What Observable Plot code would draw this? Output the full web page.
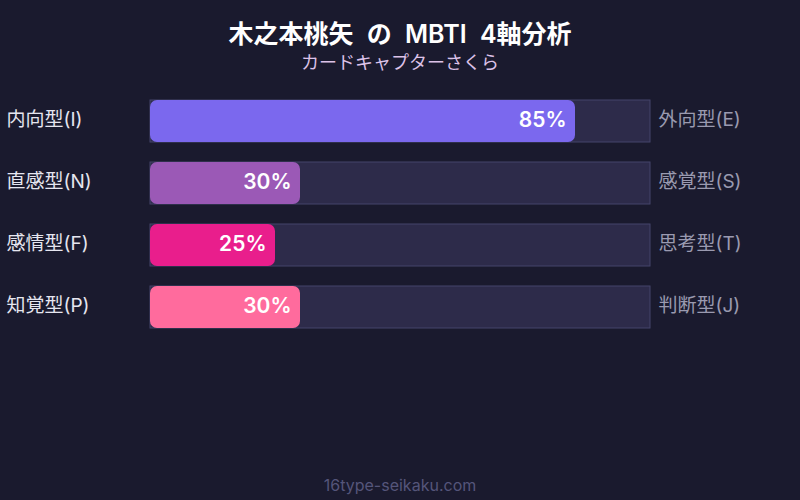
<!DOCTYPE html>
<html>
<head>
<meta charset="utf-8">
<script src="https://cdn.jsdelivr.net/npm/d3@7"></script>
<script src="https://cdn.jsdelivr.net/npm/@observablehq/plot@0.6"></script>
<style>
  html, body { margin: 0; padding: 0; background: #1a1a2e; }
  body { width: 800px; height: 500px; overflow: hidden; font-family: "Inter", "Noto Sans CJK JP", sans-serif; }
  #header { height: 80px; text-align: center; }
  #title { color: #ffffff; font-weight: 600; font-size: 25px; line-height: 25px; padding-top: 22px; word-spacing: 7px; }
  #subtitle { color: #dcc2e8; font-size: 18px; line-height: 18px; margin-top: 7px; }
  #footer { height: 40px; text-align: center; color: #55557a; font-size: 16px; line-height: 16px; }
  #footer span { display: inline-block; padding-top: 17px; }
  svg { display: block; }
</style>
</head>
<body>
<div id="header">
  <div id="title">木之本桃矢 の MBTI 4軸分析</div>
  <div id="subtitle">カードキャプターさくら</div>
</div>
<div id="chart"></div>
<div id="footer"><span>16type-seikaku.com</span></div>
<script>
const leftLabels = ["内向型(I)", "直感型(N)", "感情型(F)", "知覚型(P)"];
const rightLabels = ["外向型(E)", "感覚型(S)", "思考型(T)", "判断型(J)"];
const values = [85, 30, 25, 30];
const colors = ["#7b68ee", "#9b59b6", "#e91e8c", "#ff6b9d"];

const rows = leftLabels.map((l, i) => ({left: l, right: rightLabels[i], value: values[i], color: colors[i]}));

const chart = Plot.plot({
  width: 800,
  height: 380,
  marginLeft: 150,
  marginRight: 150,
  marginTop: 0,
  marginBottom: 0,
  style: {background: "transparent", fontFamily: "Inter, 'Noto Sans CJK JP', sans-serif"},
  x: {domain: [0, 100], axis: null},
  y: {domain: leftLabels, range: [20, 248], paddingInner: 20 / 62, paddingOuter: 0, axis: null},
  marks: [
    Plot.barX(rows, {y: "left", x1: 0, x2: 100, fill: "#2d2b4a", stroke: "#45456a", strokeWidth: 1}),
    Plot.barX(rows, {y: "left", x1: 0, x2: "value", fill: "color", rx: 7}),
    Plot.text(rows, {y: "left", x: "value", text: d => d.value + "%", textAnchor: "end", dx: -9, dy: -1.5, fill: "#ffffff", fontSize: 21, fontWeight: 600}),
    Plot.text(rows, {y: "left", text: "left", frameAnchor: "left", dx: -144, dy: -1.5, textAnchor: "start", fill: "#e6e6f0", fontSize: 19}),
    Plot.text(rows, {y: "left", text: "right", frameAnchor: "right", dx: 8, dy: -1.5, textAnchor: "start", fill: "#9a9ab0", fontSize: 19})
  ]
});
document.getElementById("chart").appendChild(chart);
</script>
</body>
</html>
